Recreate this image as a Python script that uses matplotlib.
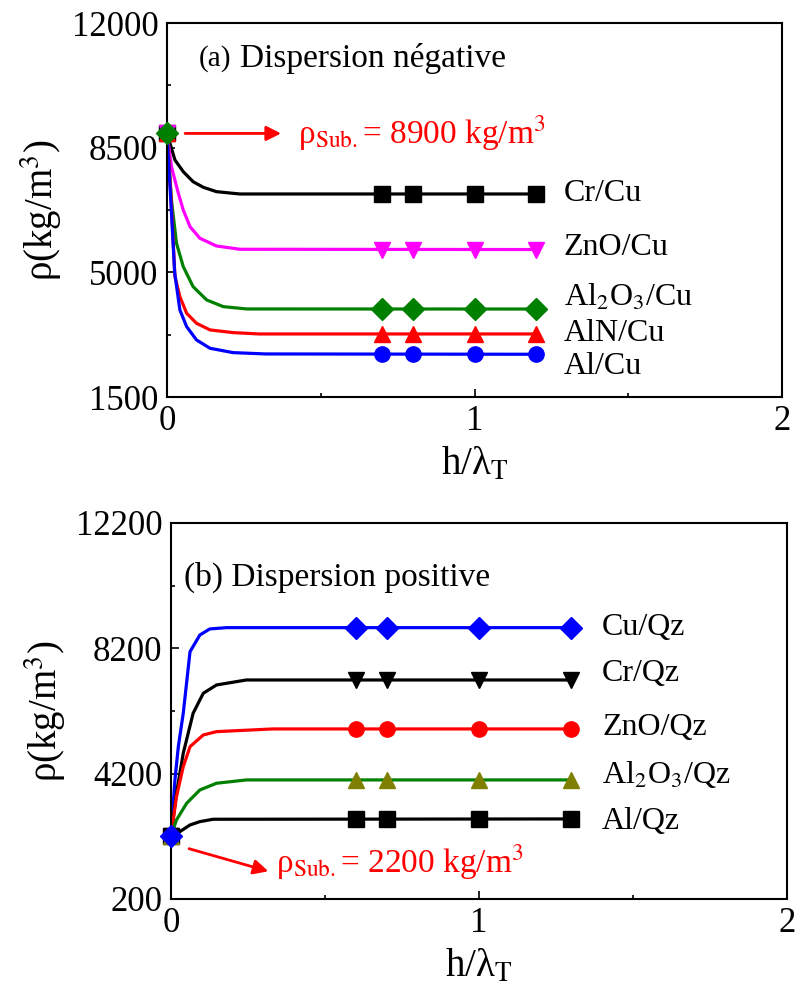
#! /usr/bin/env python3
# -*- coding: utf-8 -*-
"""Density vs normalised thickness, negative (a) and positive (b) dispersion."""

import matplotlib
matplotlib.use("Agg")
import matplotlib.pyplot as plt
from matplotlib.ticker import FixedLocator

plt.rcParams["font.family"] = ["Liberation Serif", "DejaVu Serif"]
plt.rcParams["mathtext.fontset"] = "stix"

# ---- panel (a): substrate Cu, rho_sub = 8900 ----
a_names = ["Cr/Cu", "ZnO/Cu", r"Al$_2$O$_3$/Cu", "AlN/Cu", "Al/Cu"]
a_curve_x = [
    [0, 0.026, 0.053, 0.085, 0.118, 0.161, 0.237, 1.2],
    [0, 0.015, 0.037, 0.053, 0.075, 0.107, 0.161, 0.237, 1.2],
    [0, 0.015, 0.031, 0.053, 0.085, 0.129, 0.183, 0.259, 1.2],
    [0, 0.012, 0.026, 0.042, 0.064, 0.096, 0.140, 0.215, 0.30, 1.2],
    [0, 0.012, 0.025, 0.042, 0.064, 0.096, 0.140, 0.215, 0.32, 1.2],
]
a_curve_y = [
    [8900, 8154, 7826, 7545, 7388, 7265, 7200, 7200],
    [8900, 7950, 7219, 6751, 6282, 5956, 5740, 5648, 5640],
    [8900, 7000, 5816, 5160, 4598, 4225, 4037, 3972, 3970],
    [8900, 7300, 4879, 4318, 3851, 3570, 3383, 3308, 3270, 3270],
    [8900, 7100, 5000, 3944, 3476, 3102, 2868, 2746, 2709, 2700],
]
a_mark_x = [0.7, 0.8, 1.0, 1.2]
a_levels = [7200, 5640, 3970, 3270, 2700]
a_colors = ["black", "#ff00ff", "#008000", "#ff0000", "#0000ff"]
a_mcolors = ["black", "#ff00ff", "#008000", "#ff0000", "#0000ff"]
a_markers = ["s", "v", "D", "^", "o"]
a_label_y = [7200, 5700, 4300, 3270, 2350]
a_yticks = [1500, 5000, 8500, 12000]
a_yminor = [3250, 6750, 10250]
a_sub = 8900

# ---- panel (b): substrate quartz, rho_sub = 2200 ----
b_names = ["Cu/Qz", "Cr/Qz", "ZnO/Qz", r"Al$_2$O$_3$/Qz", "Al/Qz"]
b_curve_x = [
    [0, 0.013, 0.024, 0.040, 0.062, 0.094, 0.126, 0.18, 1.3],
    [0, 0.018, 0.040, 0.072, 0.105, 0.148, 0.245, 1.3],
    [0, 0.018, 0.040, 0.062, 0.105, 0.148, 0.33, 1.3],
    [0, 0.018, 0.051, 0.094, 0.148, 0.245, 1.3],
    [0, 0.029, 0.062, 0.094, 0.137, 1.3],
]
b_curve_y = [
    [2200, 4000, 5062, 6127, 8093, 8626, 8818, 8860, 8860],
    [2200, 3575, 4851, 6127, 6766, 7031, 7190, 7190],
    [2200, 3466, 4423, 5062, 5435, 5541, 5627, 5627],
    [2200, 2723, 3255, 3680, 3894, 4000, 4000],
    [2200, 2350, 2563, 2669, 2745, 2755],
]
b_mark_x = [0.6, 0.7, 1.0, 1.3]
b_levels = [8860, 7190, 5627, 4000, 2755]
b_colors = ["#0000ff", "black", "#ff0000", "#008000", "black"]
b_mcolors = ["#0000ff", "black", "#ff0000", "#808000", "black"]
b_markers = ["D", "v", "o", "^", "s"]
b_label_y = [8860, 7400, 5680, 4160, 2660]
b_yticks = [200, 4200, 8200, 12200]
b_yminor = [2200, 6200, 10200]
b_sub = 2200

x_ticks = [0, 1, 2]
x_minor = [0.5, 1.5]


def _draw_panel(ax, names, cx, cy, mx, levels, colors, mcolors, markers,
                label_x, label_y, sub, start_order, yticks, yminor):
    for xs, ys, c in zip(cx, cy, colors):
        ax.plot(xs, ys, color=c, lw=2.3, zorder=2)
    for lev, mc, m in zip(levels, mcolors, markers):
        ax.plot(mx, [lev] * len(mx), ls="none", marker=m, ms=11,
                color=mc, mec=mc, zorder=3)
    # overlapping start markers at x = 0
    for i in start_order:
        ax.plot([0], [sub], ls="none", marker=markers[i], ms=11,
                color=mcolors[i], zorder=4, clip_on=False)
    for name, ly in zip(names, label_y):
        ax.text(label_x, ly, name, fontsize=23, va="center", ha="left")

    ax.set_xlim(0, 2)
    ax.set_ylim(yticks[0], yticks[-1])
    ax.xaxis.set_major_locator(FixedLocator(x_ticks))
    ax.xaxis.set_minor_locator(FixedLocator(x_minor))
    ax.yaxis.set_major_locator(FixedLocator(yticks))
    ax.yaxis.set_minor_locator(FixedLocator(yminor))
    ax.tick_params(which="both", direction="in", top=False, right=False,
                   labelsize=25, width=1.2)
    ax.tick_params(which="major", length=6, pad=6)
    ax.tick_params(which="minor", length=3)
    for sp in ax.spines.values():
        sp.set_linewidth(1.5)
    ax.set_xlabel(r"h/λ$_{\mathrm{T}}$", fontsize=28, labelpad=6)
    ax.set_ylabel(r"ρ(kg/m$^3$)", fontsize=28, labelpad=6)


def main():
    fig = plt.figure(figsize=(7.95, 9.96), dpi=100)
    ax_a = fig.add_axes([0.210, 0.6014, 0.774, 0.3755])
    ax_b = fig.add_axes([0.215, 0.0974, 0.775, 0.3775])

    _draw_panel(ax_a, a_names, a_curve_x, a_curve_y, a_mark_x, a_levels,
                a_colors, a_mcolors, a_markers, 1.29, a_label_y, a_sub,
                [0, 1, 4, 3, 2], a_yticks, a_yminor)
    ax_a.text(0.052, 0.905, "(a)", transform=ax_a.transAxes, fontsize=21,
              va="center")
    ax_a.text(0.118, 0.905, "Dispersion négative", transform=ax_a.transAxes,
              fontsize=24, va="center")
    ax_a.annotate("", xy=(0.38, a_sub), xytext=(0.05, a_sub),
                  arrowprops=dict(arrowstyle="-|>", color="#ff0000", lw=2,
                                  mutation_scale=22))
    ax_a.text(0.425, a_sub, r"ρ$_{\mathrm{Sub.}}$= 8900 kg/m$^3$",
              color="#ff0000", fontsize=24, va="center")

    _draw_panel(ax_b, b_names, b_curve_x, b_curve_y, b_mark_x, b_levels,
                b_colors, b_mcolors, b_markers, 1.40, b_label_y, b_sub,
                [4, 3, 1, 2, 0], b_yticks, b_yminor)
    ax_b.text(0.022, 0.855, "(b) Dispersion positive",
              transform=ax_b.transAxes, fontsize=24, va="center")
    ax_b.annotate("", xy=(0.325, 1060), xytext=(0.05, 1830),
                  arrowprops=dict(arrowstyle="-|>", color="#ff0000", lw=2,
                                  mutation_scale=22))
    ax_b.text(0.34, 1380, r"ρ$_{\mathrm{Sub.}}$= 2200 kg/m$^3$",
              color="#ff0000", fontsize=24, va="center")

    fig.savefig("out.png", dpi=100)
    return


if __name__ == "__main__":
    main()
